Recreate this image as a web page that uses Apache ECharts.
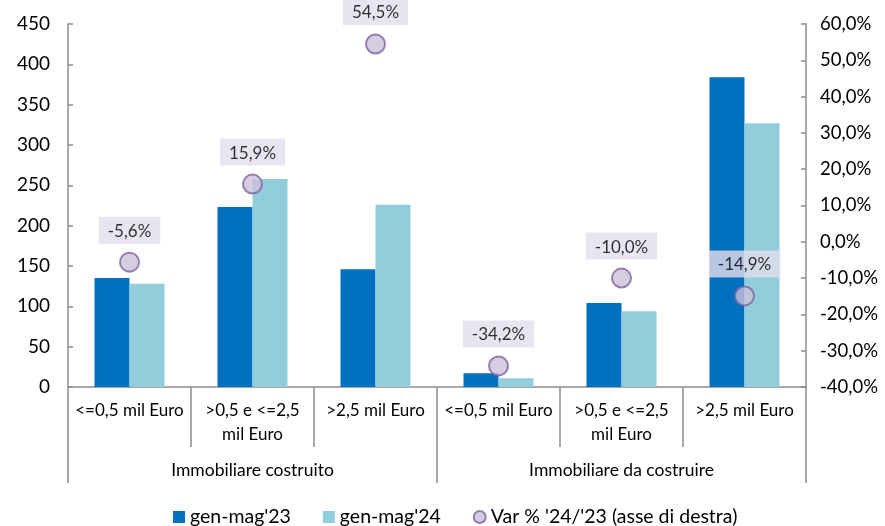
<!DOCTYPE html>
<html><head><meta charset="utf-8">
<script src="https://cdn.jsdelivr.net/npm/echarts@6/dist/echarts.min.js"></script>
<style>html,body{margin:0;padding:0;background:#fff}#c{width:885px;height:526px}</style>
</head><body><div id="c"></div>
<script>
var categories = ["<=0,5 mil Euro", ">0,5 e <=2,5\nmil Euro", ">2,5 mil Euro", "<=0,5 mil Euro", ">0,5 e <=2,5\nmil Euro", ">2,5 mil Euro"];
var groups = ["Immobiliare costruito", "Immobiliare da costruire"];
var seriesNames = ["gen-mag'23", "gen-mag'24", "Var % '24/'23 (asse di destra)"];
var values23 = [135, 223, 146, 17, 104, 384];
var values24 = [128, 258, 226, 11, 94, 327];
var varPct = [-5.6, 15.9, 54.5, -34.2, -10.0, -14.9];

var font = 'Lato';
var chart = echarts.init(document.getElementById('c'));
var axisGray = '#8c8c8c';
chart.setOption({
  animation: false,
  textStyle: {fontFamily: font},
  grid: {left: 68, right: 79, top: 24, bottom: 139},
  legend: {
    bottom: -6, left: 168, itemGap: 32, itemWidth: 12, itemHeight: 12,
    textStyle: {fontFamily: font, fontSize: 19.5, color: '#000'},
    data: [
      {name: seriesNames[0], icon: 'rect'},
      {name: seriesNames[1], icon: 'rect'},
      {name: seriesNames[2], icon: 'circle'}
    ]
  },
  xAxis: [
    {
      type: 'category', data: categories, position: 'bottom',
      axisLine: {onZero: false, lineStyle: {color: axisGray, width: 1.5}},
      axisTick: {show: true, interval: 0, length: 60, alignWithLabel: false, lineStyle: {color: axisGray, width: 1.5}},
      axisLabel: {interval: 0, margin: 12, fontFamily: font, fontSize: 17, color: '#000', lineHeight: 24}
    },
    {
      type: 'category', data: groups, position: 'bottom',
      axisLine: {show: false, onZero: false},
      axisTick: {show: true, interval: 0, length: 96, alignWithLabel: false, lineStyle: {color: axisGray, width: 1.5}},
      axisLabel: {interval: 0, margin: 74, fontFamily: font, fontSize: 17.5, color: '#000', lineHeight: 18}
    }
  ],
  yAxis: [
    {
      type: 'value', min: 0, max: 450, interval: 50, position: 'left',
      splitLine: {show: false},
      axisLine: {show: true, lineStyle: {color: axisGray, width: 1.5}},
      axisTick: {show: true, inside: true, length: 5, lineStyle: {color: axisGray, width: 1.5}},
      axisLabel: {margin: 18, fontFamily: font, fontSize: 19, color: '#000'}
    },
    {
      type: 'value', min: -40, max: 60, interval: 10, position: 'right',
      splitLine: {show: false},
      axisLine: {show: true, lineStyle: {color: axisGray, width: 1.5}},
      axisTick: {show: true, inside: true, length: 5, lineStyle: {color: axisGray, width: 1.5}},
      axisLabel: {margin: 14, fontFamily: font, fontSize: 18.5, color: '#000',
        formatter: function(v){ return v.toFixed(1).replace('.', ',') + '%'; }}
    }
  ],
  series: [
    {name: seriesNames[0], type: 'bar', data: values23, barWidth: 35, barGap: '0%',
      itemStyle: {color: '#0070C0'}},
    {name: seriesNames[1], type: 'bar', data: values24, barWidth: 35, barGap: '0%',
      itemStyle: {color: '#92CDDC'}},
    {name: seriesNames[2], type: 'scatter', yAxisIndex: 1, data: varPct, symbolSize: 19, z: 5,
      itemStyle: {color: '#CCC1DA', borderColor: '#8064A2', borderWidth: 2},
      label: {show: true, position: 'top', distance: 8, fontFamily: font, fontSize: 17, color: '#000',
        backgroundColor: '#E4DFEC', padding: [6, 9, 4, 9],
        formatter: function(p){ return p.value.toFixed(1).replace('.', ',') + '%'; }}}
  ]
});
</script></body></html>
